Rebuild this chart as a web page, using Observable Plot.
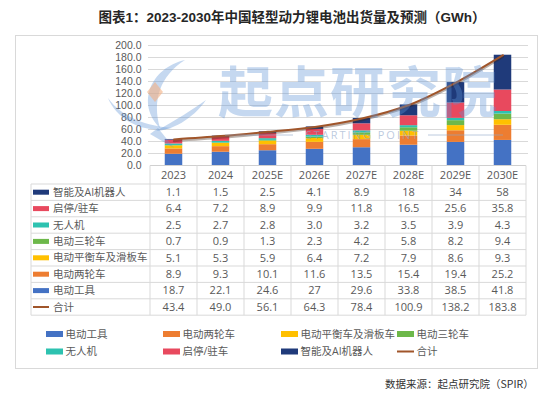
<!DOCTYPE html>
<html><head><meta charset="utf-8">
<script src="https://cdn.jsdelivr.net/npm/d3@7"></script>
<script src="https://cdn.jsdelivr.net/npm/@observablehq/plot@0.6"></script>
<style>
body{margin:0;background:#fff;overflow:hidden;font-family:"Open Sans","Noto Sans CJK SC",sans-serif;}
#root{position:relative;width:554px;height:397px;overflow:hidden;}
.abs{position:absolute;}
</style></head><body><div id="root"></div>
<script>
// ---- data ----
const years = ["2023","2024","2025E","2026E","2027E","2028E","2029E","2030E"];
const seriesNames = ["电动工具","电动两轮车","电动平衡车及滑板车","电动三轮车","无人机","启停/驻车","智能及AI机器人"];
const seriesColors = ["#4472C4","#ED7D31","#FFC000","#6DB84A","#2DC2B0","#E8495E","#1F3A7A"];
const powerTools   = ["18.7","22.1","24.6","27","29.6","33.8","38.5","41.8"];
const twoWheelers  = ["8.9","9.3","10.1","11.6","13.5","15.4","19.4","25.2"];
const balanceScoot = ["5.1","5.3","5.9","6.4","7.2","7.9","8.6","9.3"];
const threeWheelers= ["0.7","0.9","1.3","2.3","4.2","5.8","8.2","9.4"];
const drones       = ["2.5","2.7","2.8","3.0","3.2","3.5","3.9","4.3"];
const startStop    = ["6.4","7.2","8.9","9.9","11.8","16.5","25.6","35.8"];
const robots       = ["1.1","1.5","2.5","4.1","8.9","18","34","58"];
const totals       = ["43.4","49.0","56.1","64.3","78.4","100.9","138.2","183.8"];
const totalName = "合计";
const totalColor = "#A0552A";
const yTicks = [0,20,40,60,80,100,120,140,160,180,200];
const titleText = "图表1：2023-2030年中国轻型动力锂电池出货量及预测（GWh）";
const sourceText = "数据来源：起点研究院（SPIR）";

const seriesValues = [powerTools,twoWheelers,balanceScoot,threeWheelers,drones,startStop,robots];

const data = [];
seriesNames.forEach((s,i)=>years.forEach((y,j)=>data.push({year:y,series:s,value:+seriesValues[i][j]})));
const totalData = years.map((y,j)=>({year:y,total:+totals[j]}));

const root = document.getElementById("root");
const txtColor = "#595959";
const font = "'Open Sans','Noto Sans CJK SC',sans-serif";

// panel
const panel = document.createElement("div");
panel.className="abs";
Object.assign(panel.style,{left:"15px",top:"35px",width:"521px",height:"332px",border:"1px solid #D9D9D9"});
root.appendChild(panel);

// title
const title = document.createElement("div");
title.className="abs";
title.textContent = titleText;
Object.assign(title.style,{left:"0px",top:"8px",width:"584px",textAlign:"center",fontFamily:"'Liberation Sans','Noto Sans CJK SC',sans-serif",fontWeight:"bold",fontSize:"13.5px",color:"#262626",lineHeight:"20px"});
root.appendChild(title);

// chart
const chart = Plot.plot({
  width:554, height:167,
  marginLeft:148, marginRight:26, marginTop:45, marginBottom:2,
  style:{fontFamily:"'Liberation Sans','Noto Sans CJK SC',sans-serif", fontSize:"10.5px", color:txtColor, background:"transparent", overflow:"visible"},
  x:{domain:years, padding:0, axis:null},
  y:{domain:[0,200], ticks:yTicks, tickFormat:d3.format(".1f"), tickSize:0, tickPadding:7, label:null},
  color:{domain:seriesNames, range:seriesColors},
  marks:[
    Plot.ruleY(yTicks.slice(1), {stroke:"#D9D9D9", strokeWidth:1}),
    Plot.barY(data, {x:"year", y:"value", fill:"series", order:seriesNames, insetLeft:14.75, insetRight:14.75}),
    Plot.line(totalData, {x:"year", y:"total", stroke:"#3a2010", strokeOpacity:0.35, strokeWidth:2.2, dy:1.6, curve:"catmull-rom"}),
    Plot.line(totalData, {x:"year", y:"total", stroke:totalColor, strokeWidth:2, curve:"catmull-rom"})
  ]
});
chart.classList.add("abs");
chart.style.left="0px"; chart.style.top="0px";
root.appendChild(chart);

// table using chart x scale
const xs = chart.scale("x");
const bw = xs.bandwidth;
const colLeft = years.map(y=>xs.apply(y));
const xEnd = colLeft[colLeft.length-1]+bw;
const tSvg = d3.select(root).append("svg").attr("class","abs").attr("width",554).attr("height",397)
  .style("left","0px").style("top","0px").style("font-family",font).style("font-size","10.5px");
const headTop = 165.5, headBot = 184, rowH = 16.4, tLeft = 31;
const rows = [];
for (let i=seriesNames.length-1;i>=0;i--) rows.push({name:seriesNames[i],color:seriesColors[i],vals:seriesValues[i],type:"rect"});
rows.push({name:totalName,color:totalColor,vals:totals,type:"line"});
const tBot = headBot + rows.length*rowH;
const lineC = "#D9D9D9";
tSvg.append("line").attr("x1",colLeft[0]).attr("x2",xEnd).attr("y1",headTop).attr("y2",headTop).attr("stroke","#D0D0D0");
for (let k=0;k<=rows.length;k++){
  const yy = headBot+k*rowH;
  tSvg.append("line").attr("x1",tLeft).attr("x2",xEnd).attr("y1",yy).attr("y2",yy).attr("stroke",lineC);
}
tSvg.append("line").attr("x1",tLeft).attr("x2",tLeft).attr("y1",headBot).attr("y2",tBot).attr("stroke",lineC);
[...colLeft, xEnd].forEach(x=>tSvg.append("line").attr("x1",x).attr("x2",x).attr("y1",headTop).attr("y2",tBot).attr("stroke",lineC));
years.forEach((y,j)=>tSvg.append("text").attr("x",colLeft[j]+bw/2).attr("y",(headTop+headBot)/2).attr("dy","0.35em")
  .attr("text-anchor","middle").attr("fill",txtColor).style("font-size","11px").text(y));
rows.forEach((r,k)=>{
  const cy = headBot + k*rowH + rowH/2;
  if (r.type==="rect") tSvg.append("rect").attr("x",33).attr("y",cy-2.5).attr("width",16).attr("height",5).attr("fill",r.color);
  else tSvg.append("line").attr("x1",33).attr("x2",49).attr("y1",cy).attr("y2",cy).attr("stroke",r.color).attr("stroke-width",2);
  tSvg.append("text").attr("x",53).attr("y",cy).attr("dy","0.35em").attr("fill",txtColor).text(r.name);
  r.vals.forEach((v,j)=>tSvg.append("text").attr("x",colLeft[j]+bw/2).attr("y",cy).attr("dy","0.35em")
    .attr("text-anchor","middle").attr("fill",txtColor).style("font-size","11px").text(v));
});

// bottom legend
const legItems = seriesNames.map((n,i)=>({name:n,color:seriesColors[i],type:"rect"}));
legItems.push({name:totalName,color:totalColor,type:"line"});
const legX = [46,163,281,397], legY = [334,351.5];
legItems.forEach((it,i)=>{
  const x = legX[i%4], y = legY[Math.floor(i/4)];
  if (it.type==="rect") tSvg.append("rect").attr("x",x).attr("y",y-3).attr("width",17).attr("height",6).attr("fill",it.color);
  else tSvg.append("line").attr("x1",x).attr("x2",x+17).attr("y1",y).attr("y2",y).attr("stroke",it.color).attr("stroke-width",2);
  tSvg.append("text").attr("x",x+19.5).attr("y",y).attr("dy","0.35em").attr("fill",txtColor).style("font-size","10.5px").text(it.name);
});

// source
tSvg.append("text").attr("x",385).attr("y",384).attr("dy","0.35em").attr("fill","#333")
  .style("font-family","'Noto Sans CJK SC',sans-serif").style("font-size","10.5px").text(sourceText);

// watermark (decorative)
const wm = d3.select(root).append("svg").attr("class","abs").attr("width",554).attr("height",397)
  .style("left","0px").style("top","0px").style("pointer-events","none");
const wmBlue = "#5E93D6";
const g = wm.append("g").attr("fill",wmBlue).attr("fill-opacity",0.36);
g.append("path").attr("d","M185,60 C150,68 136,104 160,128 C152,100 160,76 185,60 Z");
g.append("path").attr("d","M108,98 C122,118 148,126 172,128 C146,134 118,122 108,98 Z");
g.append("path").attr("d","M206,100 C192,120 172,130 156,131 C176,120 192,110 206,100 Z");
g.append("path").attr("d","M158,128 L174,148 L150,134 Z");
wm.append("path").attr("d","M155,82 L163,92 L155,102 L147,92 Z").attr("fill","#F4B183").attr("fill-opacity",0.6);
wm.append("text").attr("x",218).attr("y",92).attr("dy","0.36em").attr("fill",wmBlue).attr("fill-opacity",0.36)
  .style("font-family","'Noto Sans CJK SC',sans-serif").style("font-weight","bold").style("font-size","55px")
  .attr("textLength",279).text("起点研究院");
wm.append("text").attr("x",363).attr("y",135).attr("dy","0.35em").attr("text-anchor","middle").attr("fill","#8FA6C8").attr("fill-opacity",0.6)
  .style("font-family","'Open Sans',sans-serif").style("font-size","11px").style("letter-spacing","2px").text("STARTING POINT");
wm.append("line").attr("x1",225).attr("x2",293).attr("y1",135).attr("y2",135).attr("stroke","#8FA6C8").attr("stroke-opacity",0.6);
wm.append("line").attr("x1",428).attr("x2",503).attr("y1",135).attr("y2",135).attr("stroke","#8FA6C8").attr("stroke-opacity",0.6);
</script></body></html>
